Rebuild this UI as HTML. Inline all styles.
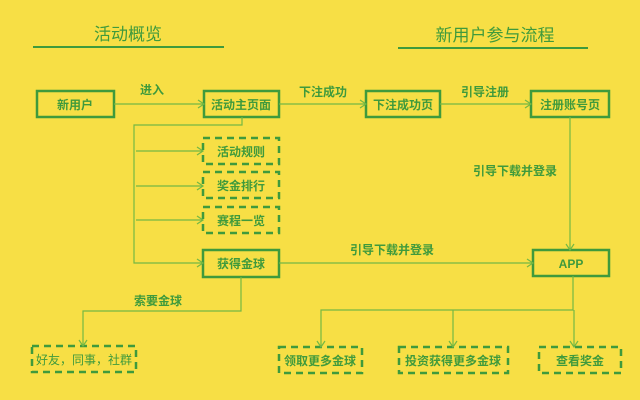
<!DOCTYPE html>
<html><head><meta charset="utf-8"><style>
body{margin:0;background:#f7df45;}
svg{display:block}
text{font-family:"Liberation Sans","Noto Sans CJK SC",sans-serif;fill:#3f9a3c;font-weight:bold;font-size:12px}
.b{fill:none;stroke:#3f9a3c;stroke-width:2.5}
.d{fill:none;stroke:#3f9a3c;stroke-width:2.5;stroke-dasharray:7 5}
.l{fill:none;stroke:#74b843;stroke-width:1.2}
.a{fill:none;stroke:#74b843;stroke-width:1.2}
</style></head><body>
<svg width="640" height="400" viewBox="0 0 640 400">
<text x="128" y="40" text-anchor="middle" style="font-size:17px;font-weight:normal">活动概览</text>
<line x1="33" y1="47" x2="224" y2="47" stroke="#3f9a3c" stroke-width="2"/>
<text x="495" y="41" text-anchor="middle" style="font-size:17px;font-weight:normal">新用户参与流程</text>
<line x1="398" y1="48" x2="588" y2="48" stroke="#3f9a3c" stroke-width="2"/>

<rect class="b" x="37" y="91" width="77" height="26"/><text x="75" y="109" text-anchor="middle">新用户</text>
<rect class="b" x="204" y="91" width="75" height="26"/><text x="241" y="109" text-anchor="middle">活动主页面</text>
<rect class="b" x="366" y="91" width="74" height="26"/><text x="403" y="109" text-anchor="middle">下注成功页</text>
<rect class="b" x="531" y="91" width="78" height="26"/><text x="570" y="109" text-anchor="middle">注册账号页</text>

<rect class="d" x="203" y="138" width="76" height="26"/><text x="241" y="156" text-anchor="middle">活动规则</text>
<rect class="d" x="203" y="172" width="76" height="26"/><text x="241" y="190" text-anchor="middle">奖金排行</text>
<rect class="d" x="203" y="207" width="76" height="26"/><text x="241" y="225" text-anchor="middle">赛程一览</text>
<rect class="b" x="203" y="250" width="76" height="27"/><text x="241" y="268" text-anchor="middle">获得金球</text>
<rect class="b" x="533" y="250" width="76" height="26"/><text x="571" y="268" text-anchor="middle">APP</text>

<rect class="d" x="32" y="346" width="104" height="26"/><text x="84" y="364" text-anchor="middle" style="font-weight:normal">好友，同事，社群</text>
<rect class="d" x="279" y="347" width="83" height="26"/><text x="320" y="365" text-anchor="middle">领取更多金球</text>
<rect class="d" x="399" y="347" width="109" height="26"/><text x="453" y="365" text-anchor="middle">投资获得更多金球</text>
<rect class="d" x="539" y="347" width="82" height="26"/><text x="580" y="365" text-anchor="middle">查看奖金</text>

<text x="152" y="94" text-anchor="middle">进入</text>
<text x="323" y="96" text-anchor="middle">下注成功</text>
<text x="485" y="96" text-anchor="middle">引导注册</text>
<text x="515" y="175" text-anchor="middle">引导下载并登录</text>
<text x="392" y="254" text-anchor="middle">引导下载并登录</text>
<text x="158" y="305" text-anchor="middle">索要金球</text>

<g class="l">
<line x1="114" y1="104" x2="204" y2="104"/>
<line x1="279" y1="104" x2="366" y2="104"/>
<line x1="440" y1="104" x2="531" y2="104"/>
<polyline points="242,117 242,125 134,125 134,263 203,263"/>
<line x1="136" y1="151" x2="203" y2="151"/>
<line x1="136" y1="186" x2="203" y2="186"/>
<line x1="136" y1="220" x2="203" y2="220"/>
<line x1="279" y1="263" x2="533" y2="263"/>
<polyline points="241,277 241,311 83,311 83,346"/>
<line x1="570" y1="117" x2="570" y2="250"/>
<polyline points="573,276 573,310 321,310 321,347"/>
<line x1="453" y1="310" x2="453" y2="347"/>
<line x1="574" y1="310" x2="574" y2="347"/>
</g>
<g class="a">
<polyline points="198,100 204,104 198,108"/>
<polyline points="360,100 366,104 360,108"/>
<polyline points="525,100 531,104 525,108"/>
<polyline points="197,147 203,151 197,155"/>
<polyline points="197,182 203,186 197,190"/>
<polyline points="197,216 203,220 197,224"/>
<polyline points="197,259 203,263 197,267"/>
<polyline points="527,259 533,263 527,267"/>
<polyline points="566,244 570,250 574,244"/>
<polyline points="79,340 83,346 87,340"/>
<polyline points="317,341 321,347 325,341"/>
<polyline points="449,341 453,347 457,341"/>
<polyline points="570,341 574,347 578,341"/>
</g>
</svg>
</body></html>
